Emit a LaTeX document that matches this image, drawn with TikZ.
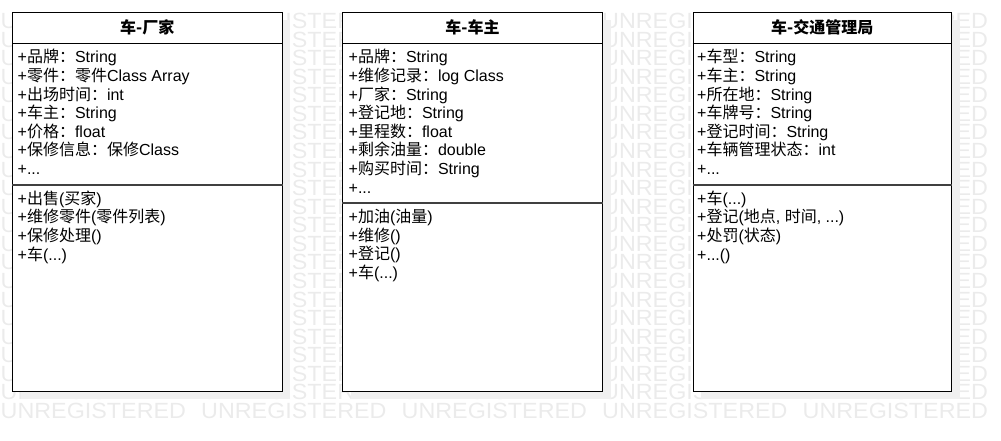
\documentclass[tikz,border=0pt]{standalone}
\usepackage{fontspec}
\setmainfont{Liberation Sans}
\newfontfamily\cjk{Noto Sans CJK SC}
\newcommand{\zhs}[1]{{\cjk #1}}
\newcommand{\pts}{...}
\begin{document}
\begin{tikzpicture}[x=1pt,y=-1pt,
    attr/.style={anchor=base west,inner sep=0pt,font=\fontsize{16}{18.6}\selectfont},
    titre/.style={anchor=base,inner sep=0pt,font=\fontsize{16}{18.6}\selectfont\bfseries},
    filigrane/.style={anchor=west,inner sep=0pt,text=black!8,font=\fontsize{22}{22}\selectfont,xscale=1.06},
    ombre/.style={fill=black!6},
    boite/.style={draw=black,fill=white,line width=1pt,anchor=north west,inner sep=0pt},
    sep/.style={draw=black!75,line width=1.6pt}]
    \useasboundingbox (0,0) rectangle (1001,441);
    % Filigrane
    \foreach \r in {0,...,21}
      \foreach \c in {0,...,4}
        \node[filigrane] (wm-\r-\c) at ({0.5+200.5*\c},{21+18.57*\r}) {UNREGISTERED};
    % Ombres
    \fill[ombre] (20.5,20.5) rectangle (290,398.5);
    \fill[ombre] (350.5,20.5) rectangle (610.5,398.5);
    \fill[ombre] (701,20.5) rectangle (959.5,398.5);
    % Classe 车-厂家
    \node[boite,minimum width=269.5pt,minimum height=378.5pt] (cj) at (12,12) {};
    \draw (cj.west |- 0,43.5) -- (cj.east |- 0,43.5);
    \draw[sep] (cj.west |- 0,184.7) -- (cj.east |- 0,184.7);
    \node[titre] (cj-titre) at (cj.center |- 0,33.5) {\zhs{车-厂家}};
    \foreach \lbl [count=\i] in {{+\zhs{品牌：}String},{+\zhs{零件：零件}Class Array},{+\zhs{出场时间：}int},
      {+\zhs{车主：}String},{+\zhs{价格：}float},{+\zhs{保修信息：保修}Class},{+\pts}}
      \node[attr] (cj-a\i) at (17.5,{63+18.6*(\i-1)}) {\lbl};
    \foreach \lbl [count=\i] in {{+\zhs{出售}(\zhs{买家})},{+\zhs{维修零件}(\zhs{零件列表})},{+\zhs{保修处理}()},{+\zhs{车}(\pts)}}
      \node[attr] (cj-m\i) at (17.5,{204.2+18.6*(\i-1)}) {\lbl};
    % Classe 车-车主
    \node[boite,minimum width=260pt,minimum height=378.5pt] (cz) at (342,12) {};
    \draw (cz.west |- 0,43.5) -- (cz.east |- 0,43.5);
    \draw[sep] (cz.west |- 0,203.2) -- (cz.east |- 0,203.2);
    \node[titre] (cz-titre) at (cz.center |- 0,33.5) {\zhs{车-车主}};
    \foreach \lbl [count=\i] in {{+\zhs{品牌：}String},{+\zhs{维修记录：}log Class},{+\zhs{厂家：}String},
      {+\zhs{登记地：}String},{+\zhs{里程数：}float},{+\zhs{剩余油量：}double},{+\zhs{购买时间：}String},{+\pts}}
      \node[attr] (cz-a\i) at (348.5,{63+18.6*(\i-1)}) {\lbl};
    \foreach \lbl [count=\i] in {{+\zhs{加油}(\zhs{油量})},{+\zhs{维修}()},{+\zhs{登记}()},{+\zhs{车}(\pts)}}
      \node[attr] (cz-m\i) at (348.5,{222.7+18.6*(\i-1)}) {\lbl};
    % Classe 车-交通管理局
    \node[boite,minimum width=258.5pt,minimum height=378.5pt] (jt) at (692.5,12) {};
    \draw (jt.west |- 0,43.5) -- (jt.east |- 0,43.5);
    \draw[sep] (jt.west |- 0,184.7) -- (jt.east |- 0,184.7);
    \node[titre] (jt-titre) at (jt.center |- 0,33.5) {\zhs{车-交通管理局}};
    \foreach \lbl [count=\i] in {{+\zhs{车型：}String},{+\zhs{车主：}String},{+\zhs{所在地：}String},
      {+\zhs{车牌号：}String},{+\zhs{登记时间：}String},{+\zhs{车辆管理状态：}int},{+\pts}}
      \node[attr] (jt-a\i) at (697,{63+18.6*(\i-1)}) {\lbl};
    \foreach \lbl [count=\i] in {{+\zhs{车}(\pts)},{+\zhs{登记}(\zhs{地点}, \zhs{时间}, \pts)},{+\zhs{处罚}(\zhs{状态})},{+\pts()}}
      \node[attr] (jt-m\i) at (697,{204.2+18.6*(\i-1)}) {\lbl};
\end{tikzpicture}
\end{document}
